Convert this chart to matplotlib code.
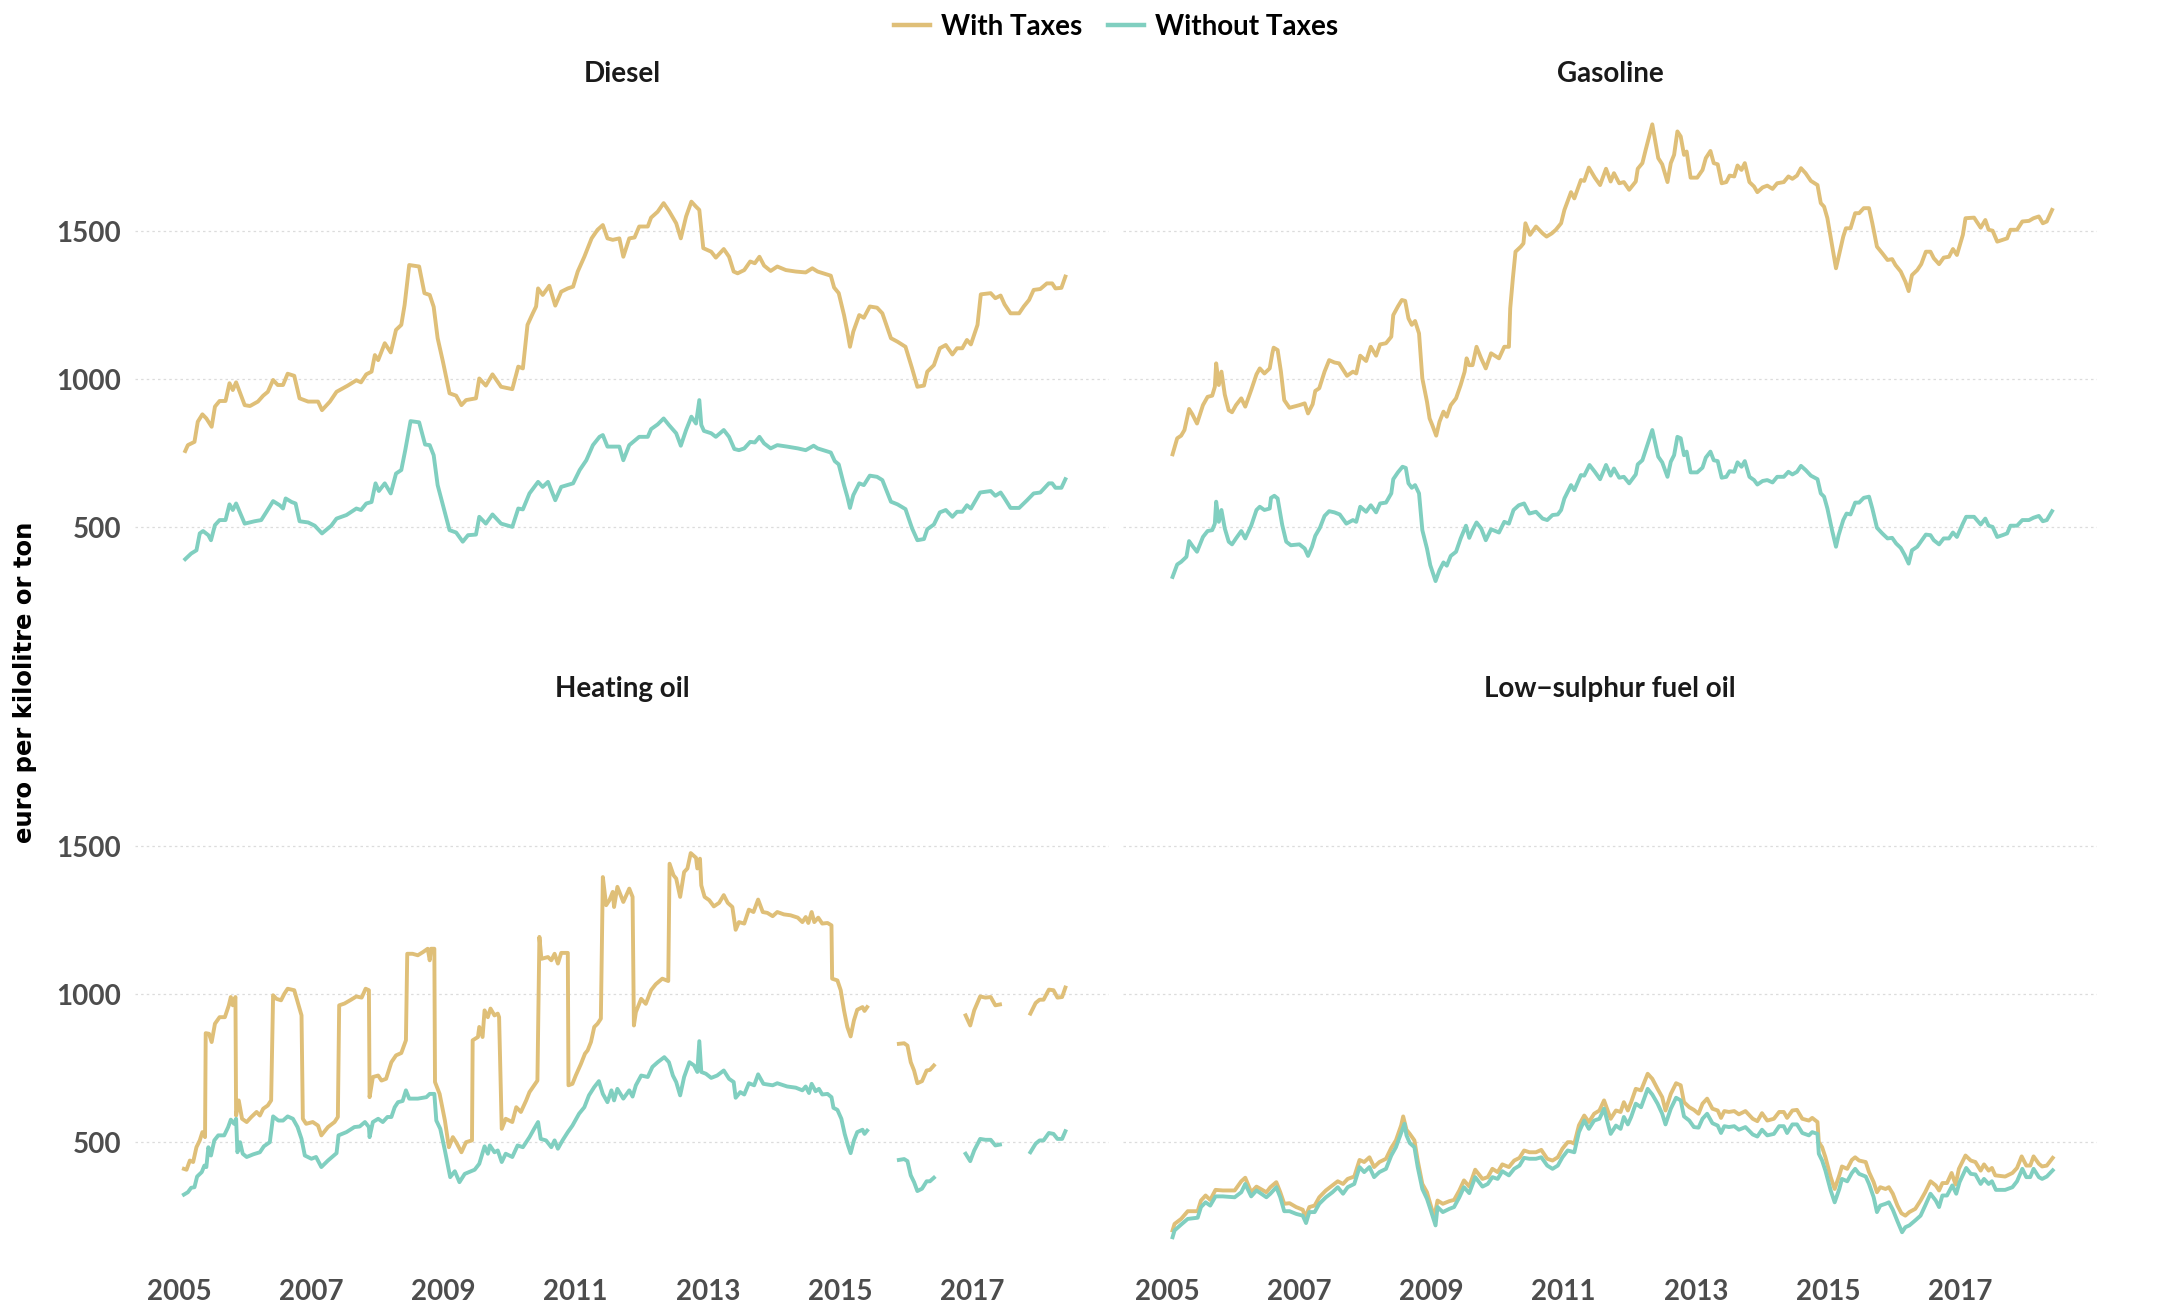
import numpy as np
import matplotlib
matplotlib.use('agg')  # no display
import matplotlib.pyplot as plt
from matplotlib.lines import Line2D

# weekly prices, (decimal year, euro per kilolitre or ton)
diesel_tax = [
    (2005.09, 758), (2005.13, 778), (2005.23, 789), (2005.28, 857), (2005.35, 882), (2005.41, 868),
    (2005.49, 840), (2005.54, 908), (2005.61, 927), (2005.70, 927), (2005.76, 987), (2005.81, 964),
    (2005.86, 990), (2005.99, 913), (2006.07, 910), (2006.19, 925), (2006.27, 945), (2006.34, 958),
    (2006.42, 998), (2006.49, 981), (2006.57, 981), (2006.64, 1019), (2006.74, 1012), (2006.82, 936),
    (2006.95, 925), (2007.10, 925), (2007.16, 896), (2007.28, 925), (2007.38, 958), (2007.55, 979),
    (2007.68, 997), (2007.75, 990), (2007.83, 1017), (2007.91, 1026), (2007.96, 1082), (2008.01, 1065),
    (2008.11, 1122), (2008.20, 1091), (2008.28, 1167), (2008.36, 1184), (2008.41, 1251), (2008.48, 1386),
    (2008.63, 1381), (2008.71, 1291), (2008.79, 1285), (2008.85, 1245), (2008.91, 1139), (2008.99, 1060),
    (2009.09, 953), (2009.19, 945), (2009.27, 913), (2009.34, 930), (2009.49, 936), (2009.54, 1003),
    (2009.64, 979), (2009.74, 1017), (2009.87, 975), (2010.04, 967), (2010.13, 1043), (2010.20, 1037),
    (2010.27, 1184), (2010.35, 1223), (2010.40, 1246), (2010.43, 1307), (2010.50, 1285), (2010.60, 1316),
    (2010.69, 1249), (2010.78, 1296), (2010.88, 1307), (2010.96, 1313), (2011.03, 1364), (2011.13, 1414),
    (2011.24, 1476), (2011.33, 1505), (2011.41, 1521), (2011.48, 1476), (2011.56, 1471), (2011.66, 1476),
    (2011.72, 1414), (2011.81, 1476), (2011.89, 1479), (2011.96, 1516), (2012.09, 1516), (2012.14, 1546),
    (2012.24, 1566), (2012.33, 1595), (2012.41, 1569), (2012.52, 1527), (2012.59, 1476), (2012.67, 1550),
    (2012.75, 1600), (2012.82, 1583), (2012.87, 1572), (2012.93, 1443), (2013.05, 1431), (2013.12, 1411),
    (2013.24, 1440), (2013.32, 1414), (2013.39, 1364), (2013.45, 1358), (2013.55, 1369), (2013.64, 1398),
    (2013.71, 1392), (2013.78, 1414), (2013.85, 1384), (2013.95, 1366), (2014.05, 1381), (2014.18, 1369),
    (2014.33, 1364), (2014.48, 1361), (2014.58, 1375), (2014.66, 1364), (2014.86, 1350), (2014.91, 1310),
    (2014.98, 1291), (2015.06, 1217), (2015.11, 1161), (2015.15, 1110), (2015.20, 1161), (2015.29, 1217),
    (2015.36, 1208), (2015.45, 1246), (2015.56, 1242), (2015.64, 1223), (2015.77, 1139), (2015.87, 1127),
    (2015.99, 1110), (2016.09, 1037), (2016.17, 975), (2016.27, 979), (2016.32, 1026), (2016.42, 1048),
    (2016.51, 1105), (2016.60, 1116), (2016.70, 1084), (2016.77, 1105), (2016.85, 1105), (2016.92, 1133),
    (2016.98, 1118), (2017.08, 1184), (2017.13, 1287), (2017.28, 1291), (2017.35, 1274), (2017.43, 1283),
    (2017.49, 1253), (2017.58, 1223), (2017.71, 1223), (2017.78, 1246), (2017.86, 1268), (2017.93, 1302),
    (2018.03, 1305), (2018.13, 1324), (2018.21, 1324), (2018.26, 1307), (2018.35, 1309), (2018.41, 1347),
]
diesel_notax = [
    (2005.09, 393), (2005.18, 412), (2005.26, 423), (2005.31, 480), (2005.36, 488), (2005.44, 474),
    (2005.48, 457), (2005.54, 508), (2005.61, 525), (2005.70, 525), (2005.76, 578), (2005.81, 559),
    (2005.86, 581), (2005.99, 513), (2006.14, 521), (2006.24, 525), (2006.32, 553), (2006.42, 589),
    (2006.52, 575), (2006.57, 564), (2006.61, 598), (2006.70, 586), (2006.76, 581), (2006.82, 521),
    (2006.95, 517), (2007.05, 506), (2007.16, 480), (2007.30, 506), (2007.38, 530), (2007.53, 542),
    (2007.68, 564), (2007.75, 559), (2007.83, 581), (2007.91, 586), (2007.97, 649), (2008.02, 623),
    (2008.11, 649), (2008.20, 615), (2008.28, 682), (2008.36, 694), (2008.42, 761), (2008.50, 859),
    (2008.63, 855), (2008.72, 780), (2008.79, 778), (2008.85, 744), (2008.91, 643), (2008.99, 575),
    (2009.09, 491), (2009.19, 483), (2009.29, 452), (2009.37, 474), (2009.49, 476), (2009.54, 536),
    (2009.64, 513), (2009.74, 544), (2009.87, 513), (2010.04, 502), (2010.13, 564), (2010.20, 561),
    (2010.30, 615), (2010.43, 654), (2010.50, 637), (2010.58, 654), (2010.69, 592), (2010.78, 637),
    (2010.96, 649), (2011.06, 694), (2011.16, 727), (2011.26, 778), (2011.36, 806), (2011.41, 812),
    (2011.48, 773), (2011.58, 773), (2011.66, 773), (2011.72, 727), (2011.81, 778), (2011.96, 806),
    (2012.09, 806), (2012.14, 832), (2012.24, 848), (2012.33, 868), (2012.41, 846), (2012.52, 818),
    (2012.59, 776), (2012.67, 829), (2012.75, 874), (2012.82, 851), (2012.87, 930), (2012.90, 846),
    (2012.94, 826), (2013.05, 818), (2013.12, 806), (2013.24, 829), (2013.32, 806), (2013.40, 765),
    (2013.47, 761), (2013.55, 767), (2013.64, 789), (2013.71, 787), (2013.78, 806), (2013.85, 784),
    (2013.95, 767), (2014.05, 778), (2014.20, 773), (2014.36, 767), (2014.48, 761), (2014.60, 776),
    (2014.66, 767), (2014.86, 753), (2014.92, 724), (2014.98, 713), (2015.06, 643), (2015.11, 604),
    (2015.15, 566), (2015.20, 609), (2015.29, 649), (2015.36, 643), (2015.45, 675), (2015.56, 671),
    (2015.64, 660), (2015.77, 587), (2015.87, 578), (2015.99, 562), (2016.09, 497), (2016.17, 457),
    (2016.27, 461), (2016.32, 494), (2016.42, 510), (2016.51, 551), (2016.60, 559), (2016.70, 536),
    (2016.77, 553), (2016.85, 553), (2016.92, 575), (2016.98, 564), (2017.12, 618), (2017.28, 623),
    (2017.35, 607), (2017.43, 618), (2017.49, 598), (2017.58, 566), (2017.71, 566), (2017.83, 592),
    (2017.93, 615), (2018.03, 618), (2018.16, 649), (2018.21, 649), (2018.26, 634), (2018.35, 634),
    (2018.41, 663),
]

gasoline_tax = [
    (2005.08, 747), (2005.15, 801), (2005.21, 810), (2005.26, 829), (2005.33, 900), (2005.38, 882),
    (2005.45, 851), (2005.54, 913), (2005.61, 941), (2005.68, 945), (2005.72, 975), (2005.74, 1054),
    (2005.78, 981), (2005.82, 1026), (2005.87, 949), (2005.93, 896), (2005.98, 889), (2006.04, 913),
    (2006.12, 936), (2006.18, 908), (2006.27, 964), (2006.35, 1017), (2006.40, 1037), (2006.47, 1020),
    (2006.55, 1037), (2006.59, 1088), (2006.61, 1107), (2006.67, 1099), (2006.72, 1026), (2006.77, 930),
    (2006.85, 904), (2007.00, 913), (2007.08, 919), (2007.13, 885), (2007.20, 916), (2007.24, 961),
    (2007.30, 970), (2007.38, 1026), (2007.45, 1065), (2007.53, 1057), (2007.60, 1054), (2007.72, 1012),
    (2007.81, 1026), (2007.86, 1020), (2007.92, 1080), (2008.01, 1062), (2008.08, 1110), (2008.16, 1080),
    (2008.22, 1118), (2008.31, 1122), (2008.39, 1144), (2008.42, 1217), (2008.49, 1246), (2008.55, 1268),
    (2008.60, 1265), (2008.65, 1206), (2008.70, 1184), (2008.75, 1197), (2008.81, 1155), (2008.86, 1003),
    (2008.93, 925), (2008.97, 868), (2009.01, 846), (2009.07, 810), (2009.12, 857), (2009.18, 891),
    (2009.23, 874), (2009.29, 913), (2009.37, 936), (2009.44, 981), (2009.50, 1026), (2009.53, 1071),
    (2009.57, 1048), (2009.62, 1048), (2009.68, 1110), (2009.75, 1071), (2009.82, 1037), (2009.90, 1088),
    (2010.02, 1071), (2010.10, 1110), (2010.17, 1110), (2010.19, 1240), (2010.23, 1341), (2010.27, 1431),
    (2010.35, 1448), (2010.39, 1459), (2010.42, 1527), (2010.49, 1488), (2010.58, 1516), (2010.68, 1493),
    (2010.74, 1482), (2010.82, 1493), (2010.88, 1505), (2010.96, 1527), (2011.01, 1572), (2011.11, 1632),
    (2011.16, 1611), (2011.26, 1673), (2011.31, 1670), (2011.38, 1715), (2011.47, 1681), (2011.55, 1656),
    (2011.64, 1711), (2011.71, 1668), (2011.76, 1696), (2011.84, 1662), (2011.91, 1666), (2011.99, 1640),
    (2012.09, 1668), (2012.12, 1711), (2012.19, 1730), (2012.24, 1775), (2012.34, 1861), (2012.43, 1747),
    (2012.49, 1726), (2012.57, 1666), (2012.62, 1730), (2012.67, 1758), (2012.72, 1837), (2012.77, 1820),
    (2012.82, 1758), (2012.86, 1769), (2012.92, 1681), (2013.02, 1681), (2013.10, 1707), (2013.15, 1747),
    (2013.22, 1771), (2013.27, 1730), (2013.33, 1726), (2013.39, 1662), (2013.46, 1666), (2013.51, 1688),
    (2013.58, 1685), (2013.63, 1722), (2013.69, 1707), (2013.74, 1730), (2013.81, 1666), (2013.88, 1651),
    (2013.93, 1632), (2014.01, 1648), (2014.08, 1654), (2014.16, 1643), (2014.23, 1662), (2014.33, 1666),
    (2014.40, 1685), (2014.46, 1677), (2014.53, 1688), (2014.59, 1713), (2014.66, 1696), (2014.74, 1670),
    (2014.84, 1656), (2014.89, 1595), (2014.94, 1583), (2014.99, 1544), (2015.06, 1454), (2015.12, 1375),
    (2015.16, 1414), (2015.23, 1482), (2015.27, 1510), (2015.34, 1510), (2015.41, 1561), (2015.47, 1561),
    (2015.54, 1578), (2015.62, 1578), (2015.67, 1527), (2015.74, 1448), (2015.82, 1426), (2015.90, 1403),
    (2015.97, 1406), (2016.02, 1386), (2016.10, 1364), (2016.17, 1330), (2016.22, 1298), (2016.27, 1352),
    (2016.35, 1369), (2016.41, 1389), (2016.48, 1431), (2016.55, 1431), (2016.60, 1409), (2016.68, 1389),
    (2016.75, 1411), (2016.83, 1414), (2016.89, 1440), (2016.95, 1420), (2017.04, 1488), (2017.08, 1544),
    (2017.21, 1546), (2017.31, 1512), (2017.38, 1538), (2017.43, 1505), (2017.49, 1502), (2017.56, 1465),
    (2017.64, 1471), (2017.71, 1476), (2017.76, 1505), (2017.86, 1505), (2017.94, 1533), (2018.04, 1535),
    (2018.11, 1544), (2018.19, 1550), (2018.25, 1527), (2018.31, 1533), (2018.39, 1572),
]
gasoline_notax = [
    (2005.08, 333), (2005.15, 375), (2005.21, 384), (2005.29, 401), (2005.33, 454), (2005.39, 435),
    (2005.45, 418), (2005.54, 468), (2005.61, 488), (2005.68, 491), (2005.72, 513), (2005.74, 587),
    (2005.78, 519), (2005.82, 559), (2005.87, 497), (2005.93, 452), (2005.98, 443), (2006.04, 463),
    (2006.12, 488), (2006.18, 463), (2006.27, 506), (2006.35, 559), (2006.40, 570), (2006.47, 559),
    (2006.55, 564), (2006.57, 600), (2006.62, 607), (2006.67, 598), (2006.74, 508), (2006.80, 452),
    (2006.87, 440), (2007.00, 443), (2007.08, 429), (2007.13, 404), (2007.19, 435), (2007.24, 472),
    (2007.31, 499), (2007.38, 539), (2007.45, 555), (2007.53, 551), (2007.61, 544), (2007.71, 513),
    (2007.81, 525), (2007.86, 519), (2007.92, 570), (2008.01, 553), (2008.08, 575), (2008.16, 551),
    (2008.22, 581), (2008.31, 584), (2008.39, 615), (2008.42, 663), (2008.49, 686), (2008.56, 705),
    (2008.61, 701), (2008.65, 649), (2008.70, 634), (2008.75, 643), (2008.81, 615), (2008.86, 491),
    (2008.93, 429), (2008.98, 373), (2009.06, 319), (2009.12, 356), (2009.18, 382), (2009.23, 371),
    (2009.29, 404), (2009.37, 418), (2009.44, 463), (2009.52, 506), (2009.57, 465), (2009.62, 491),
    (2009.68, 517), (2009.75, 497), (2009.82, 457), (2009.90, 494), (2010.02, 483), (2010.10, 519),
    (2010.17, 513), (2010.24, 559), (2010.32, 575), (2010.40, 581), (2010.48, 547), (2010.58, 553),
    (2010.68, 530), (2010.75, 525), (2010.83, 542), (2010.91, 544), (2010.96, 559), (2011.01, 598),
    (2011.11, 643), (2011.16, 626), (2011.26, 677), (2011.31, 675), (2011.39, 711), (2011.47, 688),
    (2011.55, 663), (2011.64, 711), (2011.71, 675), (2011.76, 699), (2011.84, 668), (2011.91, 671),
    (2011.99, 649), (2012.09, 679), (2012.12, 713), (2012.19, 727), (2012.24, 761), (2012.34, 829),
    (2012.43, 739), (2012.49, 720), (2012.57, 671), (2012.62, 722), (2012.67, 744), (2012.72, 806),
    (2012.77, 801), (2012.82, 744), (2012.86, 756), (2012.92, 686), (2013.02, 686), (2013.10, 702),
    (2013.15, 736), (2013.22, 756), (2013.27, 727), (2013.33, 724), (2013.39, 668), (2013.46, 671),
    (2013.51, 690), (2013.58, 688), (2013.63, 720), (2013.69, 705), (2013.74, 724), (2013.81, 671),
    (2013.88, 660), (2013.93, 645), (2014.01, 657), (2014.08, 660), (2014.16, 652), (2014.23, 671),
    (2014.33, 671), (2014.40, 688), (2014.46, 679), (2014.53, 688), (2014.59, 708), (2014.66, 694),
    (2014.74, 675), (2014.84, 663), (2014.89, 615), (2014.94, 604), (2014.99, 564), (2015.06, 491),
    (2015.12, 435), (2015.16, 474), (2015.23, 525), (2015.28, 547), (2015.34, 544), (2015.41, 584),
    (2015.47, 584), (2015.54, 600), (2015.62, 604), (2015.67, 564), (2015.74, 499), (2015.82, 480),
    (2015.90, 463), (2015.97, 465), (2016.03, 446), (2016.10, 431), (2016.16, 407), (2016.22, 378),
    (2016.27, 423), (2016.35, 435), (2016.41, 454), (2016.48, 476), (2016.55, 474), (2016.60, 457),
    (2016.68, 443), (2016.75, 463), (2016.83, 463), (2016.89, 483), (2016.95, 468), (2017.04, 513),
    (2017.09, 536), (2017.21, 536), (2017.31, 510), (2017.38, 530), (2017.43, 506), (2017.49, 502),
    (2017.56, 468), (2017.64, 474), (2017.71, 480), (2017.76, 506), (2017.86, 506), (2017.94, 525),
    (2018.04, 525), (2018.11, 533), (2018.19, 539), (2018.25, 521), (2018.31, 525), (2018.39, 555),
]

# heating oil has missing weeks (None)
heating_tax = [
    (2005.07, 411), (2005.11, 408), (2005.16, 439), (2005.21, 434), (2005.26, 484), (2005.31, 507),
    (2005.35, 535), (2005.39, 518), (2005.40, 869), (2005.45, 867), (2005.49, 839), (2005.54, 901),
    (2005.61, 923), (2005.69, 923), (2005.75, 963), (2005.78, 991), (2005.81, 963), (2005.85, 991),
    (2005.86, 591), (2005.90, 642), (2005.95, 580), (2006.02, 569), (2006.09, 586), (2006.17, 603),
    (2006.22, 591), (2006.27, 614), (2006.34, 625), (2006.39, 642), (2006.42, 997), (2006.47, 985),
    (2006.54, 980), (2006.59, 1002), (2006.64, 1019), (2006.74, 1014), (2006.80, 968), (2006.85, 929),
    (2006.87, 580), (2006.92, 563), (2007.02, 569), (2007.10, 557), (2007.15, 524), (2007.25, 552),
    (2007.35, 569), (2007.40, 586), (2007.42, 963), (2007.50, 969), (2007.60, 982), (2007.68, 993),
    (2007.76, 989), (2007.82, 1019), (2007.87, 1014), (2007.88, 653), (2007.93, 721), (2008.01, 726),
    (2008.06, 709), (2008.13, 715), (2008.21, 771), (2008.28, 794), (2008.36, 802), (2008.43, 845),
    (2008.45, 1137), (2008.53, 1137), (2008.61, 1132), (2008.69, 1143), (2008.76, 1154), (2008.79, 1115),
    (2008.81, 1154), (2008.86, 1154), (2008.87, 704), (2008.94, 664), (2009.02, 574), (2009.08, 484),
    (2009.14, 518), (2009.19, 501), (2009.27, 467), (2009.34, 501), (2009.43, 507), (2009.44, 845),
    (2009.52, 856), (2009.54, 890), (2009.59, 856), (2009.62, 946), (2009.67, 923), (2009.71, 952),
    (2009.77, 929), (2009.82, 935), (2009.84, 923), (2009.88, 546), (2009.94, 580), (2010.04, 569),
    (2010.10, 619), (2010.17, 603), (2010.25, 642), (2010.30, 670), (2010.37, 693), (2010.42, 709),
    (2010.45, 1194), (2010.48, 1120), (2010.58, 1126), (2010.63, 1115), (2010.68, 1137), (2010.73, 1104),
    (2010.78, 1140), (2010.88, 1140), (2010.89, 693), (2010.95, 698), (2011.00, 726), (2011.08, 766),
    (2011.14, 800), (2011.18, 811), (2011.23, 839), (2011.28, 890), (2011.33, 901), (2011.38, 918),
    (2011.41, 1396), (2011.46, 1301), (2011.51, 1318), (2011.56, 1346), (2011.58, 1295), (2011.63, 1363),
    (2011.72, 1312), (2011.81, 1357), (2011.86, 1329), (2011.88, 895), (2011.91, 940), (2011.99, 985),
    (2012.06, 968), (2012.14, 1014), (2012.21, 1034), (2012.31, 1053), (2012.40, 1045), (2012.42, 1441),
    (2012.48, 1402), (2012.52, 1391), (2012.58, 1329), (2012.64, 1413), (2012.69, 1425), (2012.74, 1477),
    (2012.82, 1461), (2012.84, 1425), (2012.88, 1458), (2012.90, 1368), (2012.95, 1329), (2013.02, 1318),
    (2013.09, 1297), (2013.17, 1309), (2013.24, 1335), (2013.30, 1309), (2013.37, 1295), (2013.42, 1218),
    (2013.47, 1244), (2013.55, 1239), (2013.62, 1286), (2013.69, 1278), (2013.76, 1320), (2013.83, 1278),
    (2013.90, 1275), (2013.98, 1264), (2014.05, 1278), (2014.15, 1270), (2014.25, 1267), (2014.36, 1259),
    (2014.43, 1244), (2014.48, 1261), (2014.52, 1241), (2014.57, 1278), (2014.61, 1244), (2014.67, 1259),
    (2014.73, 1239), (2014.81, 1241), (2014.87, 1233), (2014.88, 1053), (2014.96, 1047), (2015.01, 1014),
    (2015.06, 946), (2015.11, 890), (2015.16, 858), (2015.21, 912), (2015.26, 948), (2015.34, 957),
    (2015.37, 944), (2015.41, 957), (2015.60, None),
    (2015.89, 833), (2015.97, 835), (2016.02, 827), (2016.07, 771), (2016.12, 743), (2016.17, 700),
    (2016.24, 707), (2016.31, 743), (2016.36, 745), (2016.42, 760), (2016.65, None),
    (2016.90, 929), (2016.97, 895), (2017.03, 946), (2017.12, 993), (2017.20, 989), (2017.28, 991),
    (2017.35, 963), (2017.42, 966), (2017.65, None),
    (2017.88, 935), (2017.96, 971), (2018.02, 982), (2018.08, 982), (2018.16, 1016), (2018.23, 1014),
    (2018.29, 989), (2018.36, 991), (2018.41, 1023),
]
heating_notax = [
    (2005.07, 324), (2005.13, 332), (2005.18, 347), (2005.23, 349), (2005.27, 385), (2005.34, 400),
    (2005.38, 422), (2005.41, 417), (2005.44, 484), (2005.48, 456), (2005.53, 507), (2005.59, 524),
    (2005.68, 524), (2005.74, 552), (2005.78, 577), (2005.83, 563), (2005.86, 580), (2005.88, 467),
    (2005.92, 501), (2005.96, 462), (2006.02, 451), (2006.12, 460), (2006.22, 467), (2006.28, 487),
    (2006.37, 501), (2006.42, 588), (2006.50, 574), (2006.57, 574), (2006.64, 588), (2006.72, 580),
    (2006.79, 552), (2006.85, 512), (2006.90, 456), (2007.00, 445), (2007.07, 451), (2007.15, 417),
    (2007.25, 439), (2007.38, 464), (2007.41, 524), (2007.53, 535), (2007.65, 552), (2007.73, 554),
    (2007.81, 569), (2007.87, 552), (2007.88, 518), (2007.93, 569), (2008.01, 580), (2008.08, 569),
    (2008.15, 586), (2008.21, 586), (2008.26, 619), (2008.31, 636), (2008.38, 640), (2008.43, 676),
    (2008.48, 648), (2008.61, 648), (2008.74, 653), (2008.79, 664), (2008.86, 664), (2008.89, 574),
    (2008.95, 546), (2009.02, 473), (2009.10, 383), (2009.17, 403), (2009.24, 366), (2009.32, 394),
    (2009.47, 408), (2009.54, 428), (2009.62, 487), (2009.67, 462), (2009.70, 490), (2009.77, 467),
    (2009.82, 473), (2009.88, 434), (2009.94, 462), (2010.04, 451), (2010.12, 490), (2010.20, 484),
    (2010.30, 518), (2010.37, 546), (2010.43, 569), (2010.47, 512), (2010.55, 507), (2010.63, 484),
    (2010.68, 507), (2010.73, 479), (2010.80, 507), (2010.88, 535), (2010.95, 557), (2011.05, 597),
    (2011.13, 619), (2011.20, 659), (2011.28, 687), (2011.35, 707), (2011.41, 664), (2011.48, 636),
    (2011.54, 676), (2011.58, 642), (2011.63, 681), (2011.72, 648), (2011.81, 676), (2011.86, 655),
    (2011.91, 693), (2011.99, 726), (2012.09, 721), (2012.16, 755), (2012.24, 771), (2012.34, 788),
    (2012.41, 771), (2012.47, 726), (2012.52, 704), (2012.58, 659), (2012.64, 721), (2012.72, 771),
    (2012.79, 760), (2012.84, 738), (2012.87, 842), (2012.90, 738), (2012.97, 732), (2013.05, 718),
    (2013.14, 726), (2013.24, 743), (2013.32, 715), (2013.39, 704), (2013.42, 651), (2013.49, 670),
    (2013.55, 662), (2013.62, 700), (2013.70, 693), (2013.76, 730), (2013.84, 698), (2013.98, 693),
    (2014.05, 700), (2014.20, 689), (2014.33, 685), (2014.43, 676), (2014.48, 689), (2014.53, 667),
    (2014.57, 698), (2014.63, 673), (2014.68, 681), (2014.73, 662), (2014.81, 664), (2014.87, 653),
    (2014.90, 617), (2014.96, 610), (2015.02, 580), (2015.07, 529), (2015.12, 490), (2015.16, 464),
    (2015.21, 507), (2015.26, 535), (2015.34, 543), (2015.37, 529), (2015.41, 540), (2015.60, None),
    (2015.89, 441), (2015.97, 444), (2016.02, 437), (2016.07, 389), (2016.12, 366), (2016.17, 336),
    (2016.24, 344), (2016.31, 369), (2016.36, 369), (2016.42, 381), (2016.65, None),
    (2016.90, 462), (2016.97, 437), (2017.03, 473), (2017.12, 512), (2017.20, 509), (2017.28, 509),
    (2017.35, 490), (2017.42, 493), (2017.65, None),
    (2017.88, 467), (2017.96, 496), (2018.02, 507), (2018.08, 507), (2018.16, 532), (2018.23, 529),
    (2018.29, 512), (2018.36, 512), (2018.41, 538),
]

lowsulphur_tax = [
    (2005.08, 203), (2005.11, 225), (2005.21, 242), (2005.31, 268), (2005.46, 268), (2005.51, 304),
    (2005.58, 321), (2005.65, 306), (2005.73, 340), (2005.84, 338), (2006.02, 338), (2006.12, 369),
    (2006.18, 381), (2006.27, 332), (2006.35, 351), (2006.50, 332), (2006.56, 349), (2006.65, 366),
    (2006.71, 332), (2006.77, 293), (2006.85, 295), (2006.95, 282), (2007.05, 273), (2007.09, 248),
    (2007.15, 282), (2007.23, 287), (2007.30, 315), (2007.40, 338), (2007.50, 355), (2007.58, 369),
    (2007.66, 360), (2007.73, 377), (2007.83, 385), (2007.91, 441), (2007.98, 434), (2008.06, 450),
    (2008.13, 417), (2008.21, 434), (2008.31, 445), (2008.39, 482), (2008.46, 507), (2008.54, 558),
    (2008.57, 588), (2008.62, 543), (2008.67, 529), (2008.74, 507), (2008.79, 439), (2008.86, 360),
    (2008.93, 332), (2008.98, 293), (2009.04, 248), (2009.09, 304), (2009.17, 293), (2009.27, 302),
    (2009.34, 306), (2009.42, 338), (2009.49, 372), (2009.57, 351), (2009.66, 408), (2009.77, 377),
    (2009.85, 383), (2009.92, 411), (2010.00, 400), (2010.07, 426), (2010.17, 417), (2010.25, 439),
    (2010.33, 448), (2010.40, 473), (2010.48, 467), (2010.58, 467), (2010.66, 475), (2010.75, 445),
    (2010.83, 439), (2010.91, 450), (2010.98, 479), (2011.06, 501), (2011.11, 501), (2011.16, 496),
    (2011.23, 558), (2011.31, 591), (2011.38, 569), (2011.46, 597), (2011.54, 608), (2011.61, 642),
    (2011.71, 580), (2011.79, 608), (2011.86, 603), (2011.91, 636), (2011.97, 608), (2012.02, 636),
    (2012.09, 681), (2012.17, 676), (2012.27, 732), (2012.34, 715), (2012.42, 681), (2012.49, 653),
    (2012.54, 608), (2012.62, 664), (2012.70, 700), (2012.77, 693), (2012.82, 636), (2012.90, 619),
    (2012.97, 610), (2013.04, 597), (2013.10, 631), (2013.17, 648), (2013.25, 614), (2013.33, 608),
    (2013.38, 583), (2013.43, 606), (2013.50, 603), (2013.58, 606), (2013.65, 595), (2013.75, 606),
    (2013.86, 580), (2013.93, 572), (2014.00, 599), (2014.08, 574), (2014.18, 580), (2014.26, 603),
    (2014.33, 603), (2014.38, 583), (2014.46, 608), (2014.53, 610), (2014.61, 580), (2014.71, 574),
    (2014.76, 583), (2014.84, 569), (2014.86, 501), (2014.91, 484), (2014.96, 450), (2015.04, 383),
    (2015.10, 343), (2015.17, 389), (2015.21, 419), (2015.29, 411), (2015.36, 441), (2015.41, 450),
    (2015.47, 439), (2015.57, 434), (2015.62, 400), (2015.69, 366), (2015.74, 332), (2015.79, 349),
    (2015.87, 343), (2015.92, 349), (2015.98, 327), (2016.05, 287), (2016.11, 261), (2016.17, 253),
    (2016.23, 265), (2016.32, 276), (2016.40, 304), (2016.47, 332), (2016.55, 369), (2016.63, 355),
    (2016.68, 338), (2016.73, 363), (2016.80, 363), (2016.87, 397), (2016.93, 358), (2016.98, 411),
    (2017.08, 456), (2017.16, 439), (2017.23, 434), (2017.31, 405), (2017.36, 426), (2017.43, 405),
    (2017.48, 414), (2017.53, 389), (2017.68, 385), (2017.79, 397), (2017.86, 414), (2017.93, 453),
    (2018.00, 422), (2018.06, 422), (2018.11, 453), (2018.19, 428), (2018.24, 419), (2018.31, 422),
    (2018.40, 448),
]
lowsulphur_notax = [
    (2005.08, 180), (2005.11, 203), (2005.21, 223), (2005.31, 242), (2005.46, 246), (2005.51, 282),
    (2005.58, 298), (2005.65, 287), (2005.73, 318), (2005.84, 318), (2006.02, 315), (2006.12, 332),
    (2006.18, 360), (2006.27, 318), (2006.35, 338), (2006.50, 315), (2006.56, 327), (2006.65, 349),
    (2006.71, 315), (2006.77, 268), (2006.85, 268), (2006.95, 259), (2007.05, 253), (2007.10, 228),
    (2007.15, 265), (2007.23, 265), (2007.30, 293), (2007.40, 315), (2007.50, 332), (2007.58, 349),
    (2007.66, 327), (2007.73, 349), (2007.83, 360), (2007.91, 417), (2007.98, 400), (2008.06, 417),
    (2008.13, 383), (2008.21, 400), (2008.31, 411), (2008.39, 456), (2008.46, 484), (2008.54, 532),
    (2008.59, 563), (2008.62, 524), (2008.67, 498), (2008.74, 484), (2008.79, 417), (2008.86, 343),
    (2008.93, 310), (2008.98, 276), (2009.06, 220), (2009.09, 282), (2009.17, 265), (2009.27, 276),
    (2009.34, 282), (2009.42, 315), (2009.49, 349), (2009.57, 329), (2009.66, 383), (2009.77, 351),
    (2009.85, 360), (2009.92, 383), (2010.00, 377), (2010.07, 403), (2010.17, 389), (2010.25, 411),
    (2010.33, 422), (2010.40, 448), (2010.48, 445), (2010.58, 445), (2010.66, 450), (2010.75, 422),
    (2010.83, 411), (2010.91, 422), (2010.98, 450), (2011.06, 473), (2011.11, 470), (2011.16, 467),
    (2011.23, 535), (2011.31, 574), (2011.38, 546), (2011.46, 574), (2011.54, 580), (2011.61, 614),
    (2011.71, 529), (2011.79, 557), (2011.86, 546), (2011.91, 586), (2011.97, 561), (2012.02, 586),
    (2012.09, 631), (2012.17, 619), (2012.27, 681), (2012.34, 662), (2012.42, 631), (2012.49, 597),
    (2012.54, 561), (2012.62, 614), (2012.70, 651), (2012.77, 642), (2012.82, 588), (2012.90, 574),
    (2012.97, 552), (2013.04, 550), (2013.10, 580), (2013.17, 597), (2013.25, 565), (2013.33, 557),
    (2013.38, 532), (2013.43, 555), (2013.50, 552), (2013.58, 555), (2013.65, 543), (2013.75, 552),
    (2013.86, 527), (2013.93, 520), (2014.00, 543), (2014.08, 524), (2014.18, 529), (2014.26, 555),
    (2014.33, 555), (2014.38, 532), (2014.46, 561), (2014.53, 561), (2014.61, 532), (2014.71, 524),
    (2014.76, 535), (2014.84, 529), (2014.86, 462), (2014.91, 439), (2014.96, 405), (2015.04, 338),
    (2015.10, 298), (2015.17, 343), (2015.21, 377), (2015.29, 369), (2015.36, 397), (2015.41, 411),
    (2015.47, 394), (2015.57, 385), (2015.62, 360), (2015.69, 315), (2015.74, 265), (2015.79, 287),
    (2015.87, 293), (2015.92, 298), (2015.98, 273), (2016.05, 234), (2016.12, 197), (2016.17, 214),
    (2016.23, 220), (2016.32, 237), (2016.40, 253), (2016.47, 287), (2016.55, 327), (2016.63, 304),
    (2016.68, 282), (2016.73, 321), (2016.80, 321), (2016.88, 355), (2016.94, 327), (2016.99, 366),
    (2017.09, 414), (2017.16, 394), (2017.23, 392), (2017.31, 360), (2017.36, 377), (2017.43, 360),
    (2017.48, 369), (2017.54, 340), (2017.68, 340), (2017.79, 349), (2017.86, 369), (2017.94, 411),
    (2018.00, 383), (2018.06, 383), (2018.11, 411), (2018.19, 383), (2018.24, 377), (2018.31, 385),
    (2018.40, 406),
]

panels = ['Diesel', 'Gasoline', 'Heating oil', 'Low\u2212sulphur fuel oil']
series = {
    'Diesel': (diesel_tax, diesel_notax),
    'Gasoline': (gasoline_tax, gasoline_notax),
    'Heating oil': (heating_tax, heating_notax),
    'Low\u2212sulphur fuel oil': (lowsulphur_tax, lowsulphur_notax),
}
legend_labels = ['With Taxes', 'Without Taxes']
year_ticks = [2005, 2007, 2009, 2011, 2013, 2015, 2017]
value_ticks = [500, 1000, 1500]

gold = '#DFBF78'
teal = '#80CFC0'
FONT = 'Lato'


def unpack(pairs):
    t = np.array([p[0] for p in pairs], dtype=float)
    v = np.array([np.nan if p[1] is None else p[1] for p in pairs], dtype=float)
    return t, v


W, H = 2165, 1306
fig = plt.figure(figsize=(W / 100, H / 100), dpi=100)

# axes boxes in pixels: left, top, width, height
boxes = [(135, 95, 974, 548), (1123, 95, 974, 548),
         (135, 710, 974, 548), (1123, 710, 974, 548)]

for i, name in enumerate(panels):
    l, t, w, h = boxes[i]
    ax = fig.add_axes([l / W, 1 - (t + h) / H, w / W, h / H])
    tax, notax = series[name]
    tx, vx = unpack(tax)
    tn, vn = unpack(notax)
    ax.plot(tx, vx, color=gold, lw=2.8, solid_joinstyle='round')
    ax.plot(tn, vn, color=teal, lw=2.8, solid_joinstyle='round')

    ax.set_xlim(2004.33, 2019.07)
    ax.set_ylim(110, 1960)
    ax.set_xticks(year_ticks)
    ax.set_yticks(value_ticks)
    ax.grid(axis='y', color='#dcdcdc', linestyle=(0, (2, 2.5)), lw=0.9)
    ax.grid(axis='x', visible=False)
    ax.set_axisbelow(True)
    for s in ax.spines.values():
        s.set_visible(False)
    ax.tick_params(axis='y', length=0, labelsize=20, labelcolor='#4d4d4d', pad=10)
    ax.tick_params(axis='x', length=0, labelsize=20, labelcolor='#4d4d4d', pad=15)
    for lab in ax.get_xticklabels() + ax.get_yticklabels():
        lab.set_fontfamily(FONT)
        lab.set_fontweight('bold')
    if i % 2 == 1:
        ax.tick_params(labelleft=False)
    if i < 2:
        ax.tick_params(labelbottom=False)

    fig.text((l + w / 2) / W, 1 - (t - 21) / H, name, ha='center', va='center',
             fontsize=20, fontweight='bold', family=FONT, color='#1a1a1a')

fig.text(25 / W, 1 - 682 / H, 'euro per kilolitre or ton', rotation=90,
         ha='center', va='center', fontsize=17.5, fontweight='bold', family='DejaVu Sans')

handles = [Line2D([], [], color=gold, lw=3.2), Line2D([], [], color=teal, lw=3.2)]
fig.legend(handles, legend_labels, loc='center', bbox_to_anchor=(1116 / W, 1 - 27 / H),
           ncol=2, frameon=False, handlelength=1.3, handletextpad=0.4, columnspacing=0.9,
           prop={'family': FONT, 'weight': 'bold', 'size': 20})

fig.savefig('out.png', dpi=100)
plt.close()
